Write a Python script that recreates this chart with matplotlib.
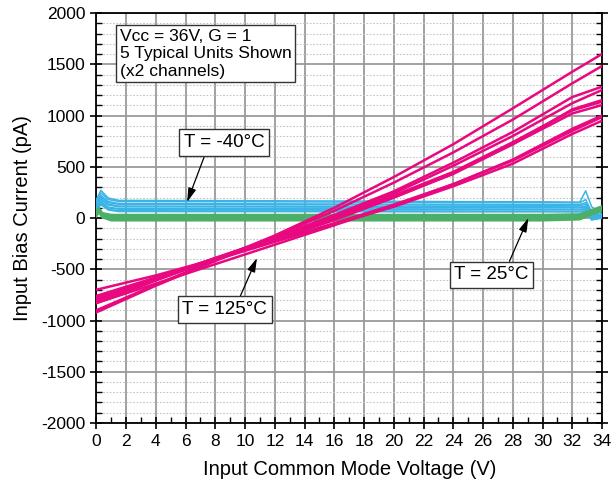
import matplotlib
matplotlib.use("Agg")
import matplotlib.pyplot as plt
from matplotlib.ticker import MultipleLocator

plt.rcParams['font.family'] = ['Liberation Sans', 'DejaVu Sans']
plt.rcParams['axes.unicode_minus'] = False

# ---- data ----
# T = 125 C (pink), values at these voltages
px = [0, 4, 8, 12, 16, 20, 24, 28, 32, 34]
p125 = [
    [-900, -650, -410, -170, 100, 400, 720, 1070, 1427, 1600],
    [-920, -660, -420, -180, 70, 345, 640, 960, 1314, 1483],
    [-830, -610, -400, -190, 30, 260, 540, 840, 1180, 1281],
    [-800, -590, -390, -190, 20, 240, 510, 800, 1120, 1249],
    [-810, -600, -400, -200, 0, 220, 450, 740, 1050, 1135],
    [-790, -590, -390, -200, -10, 200, 430, 720, 1020, 1102],
    [-770, -590, -410, -230, -50, 130, 330, 560, 850, 985],
    [-760, -580, -400, -230, -60, 110, 310, 530, 820, 949],
    [-830, -640, -450, -260, -70, 120, 330, 570, 870, 1000],
    [-700, -560, -400, -220, -20, 200, 440, 720, 1060, 1150],
]

# T = -40 C (blue)
bx = [0, 0.3, 0.8, 1.5, 6, 12, 18, 24, 30, 32.5, 32.9, 33.3, 34]
m40 = [
    [180, 270, 195, 172, 170, 168, 165, 160, 158, 155, 265, 110, 40],
    [165, 245, 180, 162, 160, 158, 155, 152, 150, 148, 180, 60, 30],
    [150, 220, 160, 142, 140, 138, 136, 134, 132, 130, 150, 50, 20],
    [140, 205, 150, 134, 132, 130, 128, 126, 125, 123, 130, 40, 30],
    [120, 190, 135, 117, 115, 114, 112, 111, 110, 108, 112, 30, 20],
    [112, 175, 125, 109, 108, 107, 105, 104, 103, 102, 104, 20, 10],
    [95, 160, 105, 92, 91, 90, 89, 88, 87, 86, 90, 10, 20],
    [88, 150, 98, 85, 84, 84, 83, 82, 81, 80, 82, 0, 10],
    [75, 140, 85, 71, 70, 70, 69, 68, 67, 66, 70, -10, 0],
    [68, 130, 78, 63, 62, 62, 61, 60, 60, 59, 62, -20, 0],
]

# T = 25 C (green)
gx = [0, 0.15, 0.4, 1, 5, 10, 15, 20, 25, 30, 32.5, 33, 33.5, 34]
p25 = [
    [60, 100, 50, 32, 32, 32, 32, 32, 32, 32, 38, 60, 90, 115],
    [55, 95, 45, 25, 25, 25, 25, 25, 25, 25, 30, 55, 85, 110],
    [50, 90, 40, 18, 18, 18, 18, 18, 18, 18, 23, 50, 80, 105],
    [45, 85, 35, 12, 12, 12, 12, 12, 12, 12, 16, 45, 75, 100],
    [40, 80, 30, 5, 5, 5, 5, 5, 5, 5, 10, 40, 70, 95],
    [35, 75, 25, 0, 0, 0, 0, 0, 0, 0, 5, 35, 65, 90],
    [30, 70, 20, -6, -6, -6, -6, -6, -6, -6, 0, 30, 60, 85],
    [25, 65, 15, -12, -12, -12, -12, -12, -12, -12, -5, 25, 55, 80],
    [20, 60, 10, -18, -18, -18, -18, -18, -18, -18, -10, 20, 50, 75],
    [15, 55, 5, -25, -25, -25, -25, -25, -25, -25, -15, 15, 45, 70],
]

xticks = list(range(0, 35, 2))
yticks = list(range(-2000, 2001, 500))

pink = '#e8087f'
blue = '#3ab4e6'
green = '#4caf68'

fig = plt.figure(figsize=(6.14, 4.91), dpi=100)
ax = fig.add_axes([0.157, 0.1385, 0.8235, 0.835])

for ys in m40:
    ax.plot(bx, ys, color=blue, lw=1.1, zorder=3)
for ys in p25:
    ax.plot(gx, ys, color=green, lw=1.4, zorder=4)
for ys in p125:
    ax.plot(px, ys, color=pink, lw=1.8, zorder=5)

ax.set_xlim(0, 34)
ax.set_ylim(-2000, 2000)
ax.set_xticks(xticks)
ax.set_yticks(yticks)
ax.xaxis.set_minor_locator(MultipleLocator(1))
ax.yaxis.set_minor_locator(MultipleLocator(100))

ax.grid(which='major', axis='both', color='#9a9a9a', lw=1.3, zorder=0)
ax.grid(which='minor', axis='y', color='#c4c4c4', lw=0.8, ls=(0, (1.5, 1.5)), zorder=0)
ax.set_axisbelow(True)

for s in ax.spines.values():
    s.set_linewidth(1.3)
ax.tick_params(which='major', direction='inout', length=9, width=1.2, labelsize=12.5,
               right=True, top=False)
ax.tick_params(which='minor', direction='in', length=4.5, width=1.0, right=True, top=False)

ax.set_xlabel('Input Common Mode Voltage (V)', fontsize=14.5, labelpad=8)
ax.set_ylabel('Input Bias Current (pA)', fontsize=14.5, labelpad=6)

box = dict(boxstyle='square,pad=0.25', fc='white', ec='#333333', lw=1.0)
arrow = dict(arrowstyle='-|>,head_length=0.7,head_width=0.2', color='black', lw=0.9,
             mutation_scale=12, shrinkA=0, shrinkB=0)

ax.text(1.58, 1845, 'Vcc = 36V, G = 1\n5 Typical Units Shown\n(x2 channels)',
        fontsize=12.6, ha='left', va='top', linespacing=1.2, zorder=10,
        bbox=dict(boxstyle='square,pad=0.2', fc='white', ec='#333333', lw=1.0))

a1 = dict(arrow); a1['relpos'] = (0.28, 0.0)
ax.annotate('T = -40°C', xy=(6.1, 156), xytext=(8.59, 737), fontsize=13.5,
            ha='center', va='center', bbox=box, arrowprops=a1, zorder=10)
a2 = dict(arrow); a2['relpos'] = (0.66, 1.0)
ax.annotate('T = 125°C', xy=(10.8, -390), xytext=(8.62, -893), fontsize=13.5,
            ha='center', va='center', bbox=box, arrowprops=a2, zorder=10)
a3 = dict(arrow); a3['relpos'] = (0.71, 1.0)
ax.annotate('T = 25°C', xy=(29.05, 0), xytext=(26.57, -556), fontsize=13.5,
            ha='center', va='center', bbox=box, arrowprops=a3, zorder=10)

fig.savefig('out.png', dpi=100)
